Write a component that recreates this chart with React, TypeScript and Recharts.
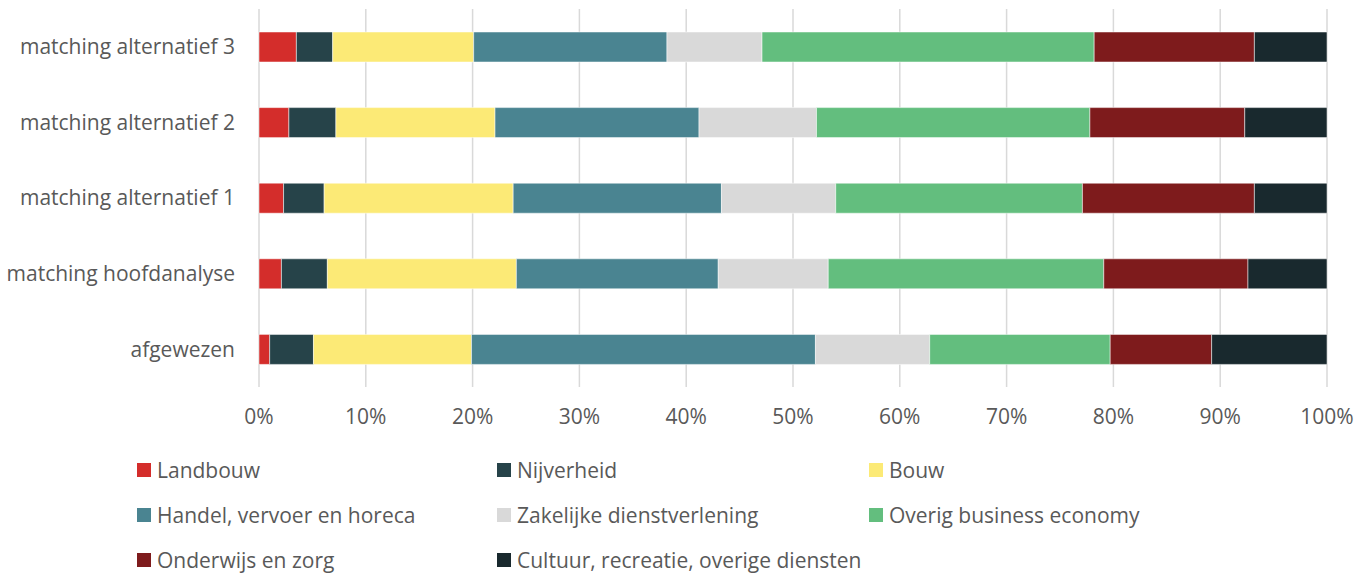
import React from 'react';
import { BarChart, Bar, XAxis, YAxis, CartesianGrid, Legend } from 'recharts';

const categories = ['matching alternatief 3', 'matching alternatief 2', 'matching alternatief 1', 'matching hoofdanalyse', 'afgewezen'];

const landbouw = [3.5, 2.8, 2.3, 2.1, 1.0];
const nijverheid = [3.4, 4.4, 3.8, 4.3, 4.1];
const bouw = [13.2, 14.9, 17.7, 17.7, 14.8];
const handel = [18.1, 19.1, 19.5, 18.9, 32.2];
const zakelijk = [8.9, 11.0, 10.7, 10.3, 10.7];
const overig = [31.1, 25.6, 23.1, 25.8, 16.9];
const onderwijs = [15.0, 14.5, 16.1, 13.5, 9.5];
const cultuur = [6.8, 7.7, 6.8, 7.4, 10.8];

const xTicks = [0, 0.1, 0.2, 0.3, 0.4, 0.5, 0.6, 0.7, 0.8, 0.9, 1];

const series = [
    { key: 'landbouw', name: 'Landbouw', values: landbouw, color: '#D42D2B' },
    { key: 'nijverheid', name: 'Nijverheid', values: nijverheid, color: '#264349' },
    { key: 'bouw', name: 'Bouw', values: bouw, color: '#FCEA76' },
    { key: 'handel', name: 'Handel, vervoer en horeca', values: handel, color: '#4A8491' },
    { key: 'zakelijk', name: 'Zakelijke dienstverlening', values: zakelijk, color: '#D9D9D9' },
    { key: 'overig', name: 'Overig business economy', values: overig, color: '#63BE7E' },
    { key: 'onderwijs', name: 'Onderwijs en zorg', values: onderwijs, color: '#7E1B1C' },
    { key: 'cultuur', name: 'Cultuur, recreatie, overige diensten', values: cultuur, color: '#19292E' },
];

const data = categories.map((name, i) => {
    const row: { [key: string]: string | number } = { name };
    series.forEach(s => { row[s.key] = s.values[i]; });
    return row;
});

const FONT = '"Open Sans", sans-serif';
const colWidths = [360, 372, 360];

const renderLegend = () => (
    <div style={{ height: 120, width: 1371, position: 'relative', fontFamily: FONT, fontSize: 21, color: '#595959' }}>
        {series.map((s, i) => {
            const col = i % 3;
            const row = Math.floor(i / 3);
            const left = 137 + colWidths.slice(0, col).reduce((a, b) => a + b, 0);
            return (
                <div key={s.key} style={{ position: 'absolute', left, top: 8 + row * 45, display: 'flex', alignItems: 'center', height: 30, whiteSpace: 'nowrap' }}>
                    <span style={{ display: 'inline-block', width: 14, height: 14, background: s.color, marginRight: 6 }} />
                    <span>{s.name}</span>
                </div>
            );
        })}
    </div>
);

export default function App() {
    return (
        <div style={{ position: 'absolute', left: 0, top: 0, width: 1371, height: 576, background: '#fff' }}>
            <BarChart
                width={1371}
                height={576}
                data={data}
                layout="vertical"
                stackOffset="expand"
                barSize={30}
                margin={{ top: 9, right: 44, bottom: 9, left: 0 }}
            >
                <CartesianGrid horizontal={false} stroke="#D9D9D9" strokeWidth={1.5} />
                <XAxis
                    type="number"
                    domain={[0, 1]}
                    ticks={xTicks}
                    tickFormatter={(v: number) => `${Math.round(v * 100)}%`}
                    axisLine={false}
                    tickLine={false}
                    tickSize={0}
                    tickMargin={22}
                    height={60}
                    tick={{ fill: '#595959', fontSize: 21, fontFamily: FONT }}
                />
                <YAxis
                    type="category"
                    dataKey="name"
                    width={259}
                    axisLine={false}
                    tickLine={false}
                    tickSize={0}
                    tickMargin={24}
                    tick={{ fill: '#595959', fontSize: 21, fontFamily: FONT }}
                />
                <Legend verticalAlign="bottom" content={renderLegend} wrapperStyle={{ left: 0, width: 1371 }} />
                {series.map(s => (
                    <Bar
                        key={s.key}
                        dataKey={s.key}
                        name={s.name}
                        stackId="a"
                        fill={s.color}
                        stroke="#ffffff"
                        strokeWidth={0.5}
                        isAnimationActive={false}
                    />
                ))}
            </BarChart>
        </div>
    );
}
